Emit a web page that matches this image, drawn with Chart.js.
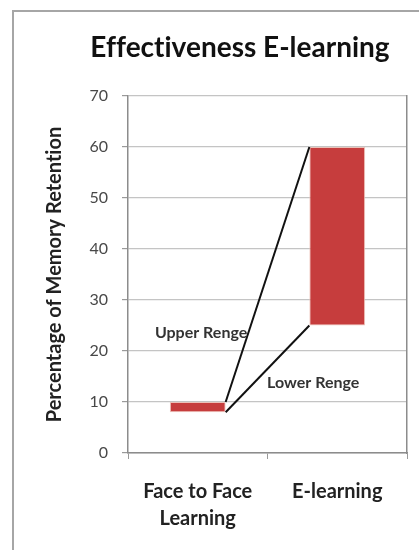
<!DOCTYPE html>
<html>
<head>
<meta charset="utf-8">
<script src="https://cdn.jsdelivr.net/npm/chart.js@4/dist/chart.umd.min.js"></script>
<style>
  html, body { margin: 0; padding: 0; background: #fff; overflow: hidden; }
  #wrap { position: relative; width: 419px; height: 550px; }
  #frame {
    position: absolute; left: 12px; top: 10px; width: 500px; height: 600px;
    border-left: 2px solid #a6a6a6; border-top: 2px solid #a6a6a6;
  }
  canvas { position: absolute; left: 0; top: 0; }
</style>
</head>
<body>
<div id="wrap">
  <div id="frame"></div>
  <canvas id="c" width="419" height="550"></canvas>
</div>
<script>
// Retention range per learning mode: [lower, upper] percentage
const chartTitle = 'Effectiveness E-learning';
const categories = [['Face to Face', 'Learning'], 'E-learning'];
const lowerRange = [8, 25];
const upperRange = [10, 60];
const yTicks = [0, 10, 20, 30, 40, 50, 60, 70];
const yAxisTitle = 'Percentage of Memory Retention';
const connectorLabels = ['Upper Renge', 'Lower Renge'];

const FONT = 'Lato, "Open Sans", sans-serif';

// Plain glyphs (no fi/ti ligatures) for every text on the canvas
const noLigatures = {
  id: 'noLigatures',
  beforeDraw(chart) { chart.ctx.textRendering = 'optimizeSpeed'; }
};

// Title drawn centred over the plot
const titlePlugin = {
  id: 'plotTitle',
  afterDraw(chart) {
    const ctx = chart.ctx;
    ctx.save();
    ctx.textRendering = 'optimizeSpeed';
    ctx.font = 'bold 28px ' + FONT;
    ctx.fillStyle = '#111';
    ctx.textAlign = 'center';
    ctx.textBaseline = 'alphabetic';
    ctx.fillText(chartTitle, 240, 57);
    ctx.restore();
  }
};

// Lines joining the top and bottom of the two range bars, with their labels
const connectorPlugin = {
  id: 'connectors',
  afterDatasetsDraw(chart) {
    const bars = chart.getDatasetMeta(0).data;
    if (bars.length < 2) return;
    const a = bars[0], b = bars[1];
    const ax = a.x + a.width / 2, bx = b.x - b.width / 2;
    const upper = [[ax, a.y], [bx, b.y]];
    const lower = [[ax, a.base], [bx, b.base]];
    const ctx = chart.ctx;
    ctx.save();
    ctx.strokeStyle = '#111';
    ctx.lineWidth = 2;
    [upper, lower].forEach(seg => {
      ctx.beginPath();
      ctx.moveTo(seg[0][0], seg[0][1]);
      ctx.lineTo(seg[1][0], seg[1][1]);
      ctx.stroke();
    });
    const at = (seg, t) => [seg[0][0] + (seg[1][0] - seg[0][0]) * t,
                            seg[0][1] + (seg[1][1] - seg[0][1]) * t];
    ctx.font = 'bold 16px ' + FONT;
    ctx.fillStyle = '#333';
    ctx.textBaseline = 'middle';
    const pu = at(upper, 0.27);
    ctx.textAlign = 'right';
    ctx.fillText(connectorLabels[0], pu[0] - 1, pu[1]);
    const pl = at(lower, 0.34);
    ctx.textAlign = 'left';
    ctx.fillText(connectorLabels[1], pl[0] + 13, pl[1]);
    ctx.restore();
  }
};

new Chart(document.getElementById('c'), {
  type: 'bar',
  data: {
    labels: categories,
    datasets: [{
      data: lowerRange.map((lo, i) => [lo, upperRange[i]]),
      backgroundColor: '#c63d3d',
      borderColor: 'rgba(235,190,180,0.9)',
      borderWidth: 1,
      borderSkipped: false,
      barPercentage: 0.5,
      categoryPercentage: 0.8
    }]
  },
  options: {
    responsive: false,
    animation: false,
    devicePixelRatio: 1,
    layout: { padding: { left: 39, right: 12, top: 96, bottom: 4 } },
    plugins: {
      legend: { display: false },
      tooltip: { enabled: false },
      title: { display: false }
    },
    scales: {
      x: {
        offset: true,
        grid: {
          offset: true,
          drawOnChartArea: false,
          drawTicks: true,
          tickLength: 6,
          tickColor: '#9a9a9a'
        },
        border: { color: '#8c8c8c', width: 1.5 },
        ticks: {
          padding: 19,
          color: '#222',
          font: { family: FONT, size: 20, weight: 'bold', lineHeight: 1.35 }
        },
        afterFit(s) { s.height = 93; }
      },
      y: {
        min: 0,
        max: 70,
        afterBuildTicks(s) { s.ticks = yTicks.map(v => ({ value: v })); },
        grid: {
          color: '#c4c4c4',
          lineWidth: 1.2,
          tickLength: 6,
          tickColor: '#9a9a9a'
        },
        border: { color: '#8c8c8c', width: 1.5 },
        ticks: {
          padding: 14,
          color: '#484848',
          font: { family: FONT, size: 16 }
        },
        title: {
          display: true,
          text: yAxisTitle,
          color: '#222',
          font: { family: FONT, size: 20, weight: 'bold' },
          padding: { top: 4, bottom: 4 }
        },
        afterFit(s) { s.width = 89; }
      },
      y2: {
        position: 'right',
        min: 0,
        max: 70,
        grid: { drawOnChartArea: false, drawTicks: false },
        border: { display: true, color: '#8c8c8c', width: 1.5 },
        ticks: { display: false },
        afterFit(s) { s.width = 0; }
      }
    }
  },
  plugins: [noLigatures, titlePlugin, connectorPlugin]
});
</script>
</body>
</html>
